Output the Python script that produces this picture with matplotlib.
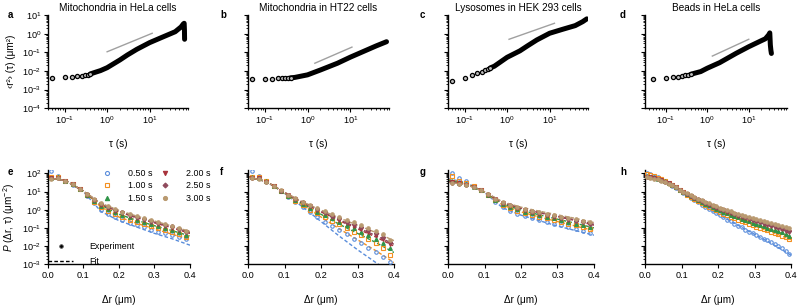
import numpy as np
import matplotlib
matplotlib.use("Agg")
import matplotlib.pyplot as plt
from matplotlib.lines import Line2D
from matplotlib.ticker import NullFormatter, FixedLocator, FormatStrFormatter

plt.rcParams['font.family'] = ['Liberation Sans', 'DejaVu Sans']
plt.rcParams['mathtext.fontset'] = 'custom'
plt.rcParams['mathtext.rm'] = 'Liberation Sans'
plt.rcParams['mathtext.it'] = 'Liberation Sans:italic'

# ---- top row: MSD vs lag time ----
titles = ["Mitochondria in HeLa cells", "Mitochondria in HT22 cells",
          "Lysosomes in HEK 293 cells", "Beads in HeLa cells"]

tau_a = [0.05, 0.1, 0.15, 0.2, 0.25, 0.3, 0.35, 0.4, 0.5, 0.7, 1, 2, 3, 5, 10, 20, 40, 55, 62, 65, 66, 66.5]
msd_a = [4.1e-3, 4.6e-3, 4.9e-3, 5.1e-3, 5.3e-3, 5.8e-3, 6.3e-3, 6.9e-3, 8.2e-3, 1.05e-2, 1.5e-2, 3.9e-2,
         7.2e-2, 0.145, 0.33, 0.65, 1.27, 2.3, 3.3, 3.6, 1.5, 0.5]
tau_b = [0.05, 0.1, 0.15, 0.2, 0.25, 0.3, 0.35, 0.4, 0.5, 1, 2, 5, 10, 20, 40, 70]
msd_b = [3.7e-3, 3.9e-3, 3.9e-3, 4.0e-3, 4.1e-3, 4.2e-3, 4.25e-3, 4.3e-3, 4.5e-3, 6.2e-3, 1.13e-2, 2.6e-2,
         5.5e-2, 0.11, 0.22, 0.37]
tau_c = [0.05, 0.1, 0.15, 0.2, 0.25, 0.3, 0.35, 0.4, 0.5, 1, 2, 3, 5, 10, 20, 40, 60, 75]
msd_c = [2.9e-3, 4.1e-3, 5.9e-3, 7.4e-3, 8.7e-3, 1.1e-2, 1.25e-2, 1.45e-2, 1.8e-2, 5.4e-2, 0.12, 0.22, 0.46,
         1.05, 1.7, 2.7, 4.4, 6.2]
tau_d = [0.05, 0.1, 0.15, 0.2, 0.25, 0.3, 0.35, 0.4, 0.5, 0.7, 1, 2, 5, 10, 20, 25, 30, 32, 33, 34, 35]
msd_d = [3.9e-3, 4.3e-3, 4.8e-3, 5.0e-3, 5.5e-3, 5.9e-3, 6.2e-3, 6.6e-3, 7.6e-3, 9.3e-3, 1.4e-2, 2.8e-2,
         8.9e-2, 0.2, 0.42, 0.53, 0.85, 1.1, 0.25, 0.13, 0.087]

# grey slope guides (tau, msd)
guide_tau = [[1, 11.5], [1.48, 10.9], [1.11, 13], [1.33, 10]]
guide_msd = [[0.107, 1.05], [0.026, 0.19], [0.5, 3.6], [0.063, 0.50]]

# ---- bottom row: displacement distributions (log10 of P) ----
lags = ["0.50 s", "1.00 s", "1.50 s", "2.00 s", "2.50 s", "3.00 s"]
dr20 = [0.01, 0.03, 0.05, 0.07, 0.09, 0.11, 0.13, 0.15, 0.17, 0.19,
        0.21, 0.23, 0.25, 0.27, 0.29, 0.31, 0.33, 0.35, 0.37, 0.39]
dr40 = [0.005, 0.015, 0.025, 0.035, 0.045, 0.055, 0.065, 0.075, 0.085, 0.095,
        0.105, 0.115, 0.125, 0.135, 0.145, 0.155, 0.165, 0.175, 0.185, 0.195,
        0.205, 0.215, 0.225, 0.235, 0.245, 0.255, 0.265, 0.275, 0.285, 0.295,
        0.305, 0.315, 0.325, 0.335, 0.345, 0.355, 0.365, 0.375, 0.385, 0.395]
dr_fit = [0.0, 0.05, 0.1, 0.15, 0.2, 0.25, 0.3, 0.35, 0.4]

logp_e = [
    [2.1, 1.85, 1.6, 1.38, 1.12, 0.75, 0.35, 0.0, -0.22, -0.42, -0.58, -0.72, -0.85, -0.97, -1.1, -1.2, -1.3, -1.4, -1.5, -1.62],
    [1.8, 1.8, 1.6, 1.4, 1.15, 0.8, 0.45, 0.15, -0.05, -0.25, -0.4, -0.55, -0.67, -0.8, -0.92, -1.02, -1.12, -1.23, -1.35, -1.5],
    [1.75, 1.78, 1.58, 1.4, 1.15, 0.82, 0.5, 0.22, 0.05, -0.12, -0.28, -0.42, -0.55, -0.67, -0.78, -0.88, -0.98, -1.1, -1.22, -1.38],
    [1.75, 1.75, 1.58, 1.4, 1.15, 0.83, 0.52, 0.28, 0.12, -0.05, -0.2, -0.33, -0.45, -0.57, -0.68, -0.78, -0.88, -0.98, -1.1, -1.25],
    [1.72, 1.75, 1.57, 1.4, 1.15, 0.84, 0.55, 0.3, 0.15, 0.0, -0.15, -0.28, -0.4, -0.52, -0.62, -0.72, -0.82, -0.92, -1.05, -1.2],
    [1.7, 1.72, 1.57, 1.4, 1.16, 0.85, 0.57, 0.35, 0.2, 0.05, -0.1, -0.23, -0.35, -0.47, -0.58, -0.68, -0.78, -0.88, -1.0, -1.15],
]
fit_e = [
    [1.75, 1.62, 1.0, -0.1, -0.6, -0.95, -1.3, -1.6, -1.95],
    [1.75, 1.6, 1.02, 0.15, -0.4, -0.75, -1.05, -1.35, -1.65],
    [1.75, 1.6, 1.03, 0.25, -0.25, -0.58, -0.88, -1.15, -1.45],
    [1.75, 1.6, 1.03, 0.3, -0.12, -0.45, -0.72, -1.0, -1.3],
    [1.75, 1.6, 1.03, 0.32, -0.08, -0.4, -0.68, -0.95, -1.25],
    [1.75, 1.6, 1.03, 0.35, -0.03, -0.35, -0.62, -0.9, -1.2],
]
logp_f = [
    [2.1, 1.85, 1.55, 1.3, 1.02, 0.72, 0.42, 0.15, -0.12, -0.4, -0.65, -0.9, -1.12, -1.35, -1.6, -1.85, -2.1, -2.35, -2.6, -2.9],
    [1.8, 1.78, 1.55, 1.3, 1.03, 0.75, 0.5, 0.25, 0.0, -0.2, -0.4, -0.6, -0.8, -1.0, -1.2, -1.4, -1.6, -1.85, -2.1, -2.5],
    [1.78, 1.75, 1.55, 1.3, 1.04, 0.78, 0.55, 0.32, 0.1, -0.1, -0.3, -0.48, -0.66, -0.85, -1.03, -1.2, -1.4, -1.6, -1.82, -2.1],
    [1.75, 1.73, 1.54, 1.3, 1.05, 0.8, 0.58, 0.38, 0.18, -0.02, -0.2, -0.38, -0.55, -0.72, -0.88, -1.05, -1.22, -1.4, -1.6, -1.9],
    [1.73, 1.72, 1.53, 1.3, 1.05, 0.82, 0.6, 0.4, 0.22, 0.03, -0.15, -0.32, -0.48, -0.65, -0.8, -0.97, -1.13, -1.3, -1.5, -1.8],
    [1.72, 1.7, 1.52, 1.3, 1.06, 0.83, 0.62, 0.43, 0.26, 0.08, -0.08, -0.25, -0.4, -0.55, -0.7, -0.85, -1.0, -1.17, -1.35, -1.65],
]
fit_f = [
    [1.8, 1.55, 0.9, 0.15, -0.65, -1.45, -2.2, -2.9, -3.6],
    [1.8, 1.55, 0.92, 0.25, -0.4, -1.05, -1.65, -2.25, -2.9],
    [1.8, 1.55, 0.93, 0.32, -0.25, -0.8, -1.3, -1.8, -2.35],
    [1.8, 1.55, 0.94, 0.38, -0.12, -0.6, -1.05, -1.5, -2.0],
    [1.8, 1.55, 0.95, 0.4, -0.08, -0.55, -0.98, -1.42, -1.9],
    [1.8, 1.55, 0.96, 0.43, -0.02, -0.45, -0.85, -1.25, -1.7],
]
logp_g = [
    [2.03, 1.76, 1.55, 1.32, 1.08, 0.8, 0.45, 0.15, -0.07, -0.22, -0.35, -0.46, -0.56, -0.66, -0.76, -0.86, -0.96, -1.06, -1.18, -1.3],
    [1.85, 1.6, 1.45, 1.3, 1.08, 0.82, 0.52, 0.28, 0.1, -0.05, -0.18, -0.29, -0.39, -0.48, -0.57, -0.66, -0.76, -0.86, -0.97, -1.08],
    [1.6, 1.48, 1.4, 1.27, 1.07, 0.83, 0.55, 0.33, 0.17, 0.03, -0.1, -0.2, -0.3, -0.39, -0.48, -0.57, -0.66, -0.76, -0.86, -0.97],
    [1.5, 1.45, 1.38, 1.26, 1.07, 0.83, 0.57, 0.37, 0.22, 0.1, -0.02, -0.12, -0.21, -0.3, -0.38, -0.46, -0.54, -0.62, -0.7, -0.8],
    [1.48, 1.43, 1.37, 1.25, 1.07, 0.84, 0.58, 0.38, 0.24, 0.12, 0.0, -0.1, -0.19, -0.28, -0.36, -0.44, -0.52, -0.6, -0.68, -0.77],
    [1.45, 1.42, 1.36, 1.25, 1.07, 0.84, 0.6, 0.41, 0.28, 0.16, 0.05, -0.05, -0.14, -0.22, -0.3, -0.38, -0.45, -0.52, -0.6, -0.68],
]
fit_g = [
    [1.7, 1.5, 0.95, 0.1, -0.3, -0.6, -0.9, -1.15, -1.4],
    [1.65, 1.45, 0.97, 0.25, -0.12, -0.4, -0.65, -0.9, -1.15],
    [1.6, 1.43, 0.98, 0.32, -0.02, -0.28, -0.52, -0.75, -1.0],
    [1.55, 1.4, 0.98, 0.38, 0.07, -0.17, -0.38, -0.6, -0.85],
    [1.55, 1.4, 0.98, 0.4, 0.1, -0.14, -0.35, -0.56, -0.8],
    [1.5, 1.38, 0.98, 0.43, 0.14, -0.08, -0.28, -0.48, -0.7],
]
logp_h = [
    [2.02, 1.95, 1.86, 1.78, 1.66, 1.55, 1.45, 1.32, 1.2, 1.07, 0.94, 0.8, 0.66, 0.52, 0.4, 0.26, 0.15, 0.03, -0.08, -0.2,
     -0.3, -0.42, -0.55, -0.64, -0.78, -0.88, -0.97, -1.1, -1.2, -1.3, -1.38, -1.5, -1.6, -1.68, -1.8, -1.9, -2.0, -2.12, -2.25, -2.45],
    [1.95, 1.9, 1.83, 1.76, 1.67, 1.57, 1.46, 1.34, 1.22, 1.09, 0.96, 0.83, 0.71, 0.6, 0.49, 0.38, 0.27, 0.17, 0.07, -0.03,
     -0.12, -0.21, -0.3, -0.38, -0.46, -0.54, -0.62, -0.7, -0.78, -0.86, -0.93, -1.0, -1.07, -1.14, -1.21, -1.28, -1.35, -1.42, -1.5, -1.6],
    [1.86, 1.82, 1.77, 1.71, 1.63, 1.55, 1.45, 1.34, 1.22, 1.09, 0.97, 0.85, 0.74, 0.63, 0.53, 0.43, 0.33, 0.24, 0.15, 0.06,
     -0.03, -0.11, -0.19, -0.27, -0.35, -0.42, -0.5, -0.57, -0.64, -0.71, -0.78, -0.85, -0.91, -0.98, -1.04, -1.11, -1.18, -1.25, -1.33, -1.42],
    [1.82, 1.78, 1.74, 1.69, 1.62, 1.54, 1.44, 1.33, 1.22, 1.1, 0.98, 0.87, 0.76, 0.66, 0.56, 0.46, 0.37, 0.28, 0.2, 0.12,
     0.04, -0.04, -0.11, -0.18, -0.25, -0.32, -0.39, -0.45, -0.52, -0.58, -0.64, -0.7, -0.76, -0.82, -0.88, -0.95, -1.01, -1.08, -1.15, -1.23],
    [1.8, 1.77, 1.73, 1.68, 1.61, 1.53, 1.44, 1.33, 1.22, 1.1, 0.99, 0.88, 0.77, 0.67, 0.58, 0.48, 0.39, 0.3, 0.22, 0.14,
     0.06, -0.01, -0.08, -0.15, -0.22, -0.29, -0.35, -0.42, -0.48, -0.54, -0.6, -0.66, -0.72, -0.78, -0.84, -0.9, -0.96, -1.02, -1.09, -1.17],
    [1.78, 1.75, 1.71, 1.66, 1.6, 1.52, 1.43, 1.33, 1.22, 1.11, 1.0, 0.9, 0.8, 0.7, 0.61, 0.52, 0.43, 0.35, 0.27, 0.19,
     0.12, 0.05, -0.02, -0.09, -0.16, -0.22, -0.28, -0.34, -0.4, -0.46, -0.52, -0.57, -0.63, -0.68, -0.74, -0.79, -0.85, -0.9, -0.96, -1.02],
]
fit_h = [
    [1.9, 1.6, 1.0, 0.35, -0.25, -0.8, -1.35, -1.9, -2.5],
    [1.9, 1.6, 1.0, 0.42, -0.08, -0.5, -0.9, -1.25, -1.65],
    [1.85, 1.58, 1.0, 0.47, 0.0, -0.4, -0.77, -1.12, -1.48],
    [1.8, 1.57, 1.0, 0.5, 0.08, -0.3, -0.63, -0.96, -1.3],
    [1.8, 1.56, 1.0, 0.52, 0.1, -0.27, -0.6, -0.92, -1.25],
    [1.78, 1.55, 1.0, 0.55, 0.15, -0.2, -0.5, -0.8, -1.1],
]

colors = ['#5a8ddb', '#f39020', '#2f9448', '#a8323a', '#8f4a5c', '#b99a70']
markers = ['o', 's', '^', 'v', 'D', 'o']
filled = [False, False, True, True, True, True]
msizes = [2.5, 2.3, 2.7, 2.7, 2.1, 2.5]

W, H = 798, 306
fig = plt.figure(figsize=(W / 100, H / 100), dpi=100)


def add_ax(l, r, t, b):
    return fig.add_axes([l / W, 1 - b / H, (r - l) / W, (b - t) / H])


def style(ax):
    for s in ['top', 'right']:
        ax.spines[s].set_visible(False)
    for s in ['left', 'bottom']:
        ax.spines[s].set_linewidth(1.0)
    ax.tick_params(which='major', direction='out', length=3, width=0.8, labelsize=6.6, pad=1.5)
    ax.tick_params(which='minor', direction='out', length=1.6, width=0.6)


top_box = [(47.7, 188), (247.7, 389), (447.7, 588), (645, 787)]
top_xlim = [(0.04, 80), (0.04, 80), (0.04, 80), (0.032, 83)]
top_tau = [tau_a, tau_b, tau_c, tau_d]
top_msd = [msd_a, msd_b, msd_c, msd_d]
letters_top = ['a', 'b', 'c', 'd']
letter_x = [8, 220, 420, 620]

for i in range(4):
    ax = add_ax(top_box[i][0], top_box[i][1], 15, 108.3)
    style(ax)
    ax.set_xscale('log')
    ax.set_yscale('log')
    ax.set_xlim(*top_xlim[i])
    ax.set_ylim(1e-4, 10)
    t = np.array(top_tau[i])
    m = np.array(top_msd[i])
    ax.plot(guide_tau[i], guide_msd[i], color='#a0a0a0', lw=1.0, zorder=2)
    dense = t >= 0.4
    ax.plot(t[dense], m[dense], color='black', lw=3.6, solid_capstyle='round',
            solid_joinstyle='round', zorder=3)
    ax.plot(t[t < 0.5], m[t < 0.5], ls='none', marker='o', ms=3.0, mfc='#bdbdbd', mec='black',
            mew=0.9, zorder=4)
    ax.set_title(titles[i], fontsize=7.2, pad=3)
    ax.set_xlabel('τ (s)', fontsize=7.2, labelpad=9)
    ax.xaxis.set_minor_formatter(NullFormatter())
    ax.yaxis.set_minor_formatter(NullFormatter())
    if i == 0:
        ax.set_ylabel('‹r²› (τ) (μm²)', fontsize=7.2, labelpad=4)
    else:
        ax.yaxis.set_major_formatter(NullFormatter())
    fig.text(letter_x[i] / W, 1 - 15 / H, letters_top[i], fontsize=7, fontweight='bold', va='center')

bot_box = [(47.7, 190), (248, 394), (448, 594), (645, 791)]
bot_dr = [dr20, dr20, dr20, dr40]
bot_logp = [logp_e, logp_f, logp_g, logp_h]
bot_fit = [fit_e, fit_f, fit_g, fit_h]
letters_bot = ['e', 'f', 'g', 'h']

for i in range(4):
    ax = add_ax(bot_box[i][0], bot_box[i][1], 170.1, 264.3)
    style(ax)
    ax.set_yscale('log')
    ax.set_xlim(0, 0.4)
    ax.set_ylim(1e-3, 150)
    for k in range(6):
        ax.plot(dr_fit, 10 ** np.array(bot_fit[i][k]), color=colors[k], lw=1.0,
                ls=(0, (2.6, 1.6)), zorder=2)
    for k in range(6):
        ax.plot(bot_dr[i], 10 ** np.array(bot_logp[i][k]), ls='none', marker=markers[k],
                ms=msizes[k], mec=colors[k], mfc=colors[k] if filled[k] else 'none',
                mew=0.8, zorder=3 + k)
    ax.xaxis.set_major_locator(FixedLocator([0, 0.1, 0.2, 0.3, 0.4]))
    ax.xaxis.set_major_formatter(FormatStrFormatter('%.1f'))
    ax.yaxis.set_minor_formatter(NullFormatter())
    ax.set_xlabel('Δr (μm)', fontsize=7.2, labelpad=11)
    if i == 0:
        ax.set_ylabel(r'$\mathit{P}$ (Δr, τ) (μm$^{-2}$)', fontsize=7.2, labelpad=4)
        h1 = [Line2D([], [], ls='none', marker=markers[k], ms=msizes[k] + 0.4, mec=colors[k],
                     mfc=colors[k] if filled[k] else 'none', mew=0.8) for k in range(6)]
        leg1 = ax.legend(h1, lags, ncol=2, frameon=False, fontsize=6.4, loc='upper left',
                         bbox_to_anchor=(0.386, 1.015), borderaxespad=0, borderpad=0,
                         handlelength=1.0, handletextpad=1.8, columnspacing=1.0,
                         labelspacing=0.4)
        ax.add_artist(leg1)
        h2 = [Line2D([], [], ls='none', marker='o', ms=2.6, mfc='black', mec='#555555', mew=0.6),
              Line2D([], [], ls=(0, (2.6, 1.6)), color='black', lw=1.0)]
        ax.legend(h2, ['Experiment', 'Fit'], frameon=False, fontsize=6.4, loc='lower left',
                  bbox_to_anchor=(0.0, -0.02), borderaxespad=0, borderpad=0,
                  handlelength=2.9, handletextpad=1.75, labelspacing=0.7)
    else:
        ax.yaxis.set_major_formatter(NullFormatter())
    fig.text(letter_x[i] / W, 1 - 172 / H, letters_bot[i], fontsize=7, fontweight='bold', va='center')

fig.savefig('out.png', dpi=100)
